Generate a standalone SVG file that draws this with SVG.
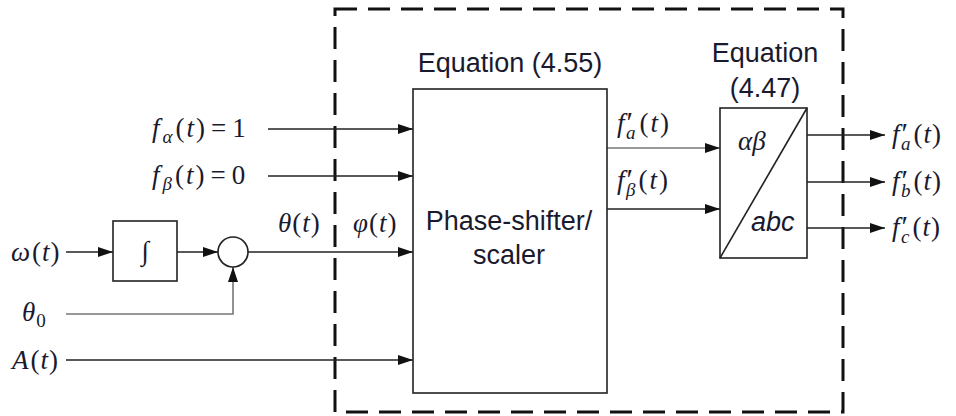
<svg xmlns="http://www.w3.org/2000/svg" width="956" height="416" viewBox="0 0 956 416">
<style>
.s{font-family:"Liberation Sans",Arial,sans-serif;font-size:27px;fill:#1a1a2e}
.m{font-family:"Liberation Serif","Times New Roman",serif;font-size:27px;fill:#1a1a2e}
.i{font-style:italic}
.sub{font-size:19px}
.pr{font-size:30px}
.box{fill:#fff;stroke:#222;stroke-width:1.6}
.ln{fill:none;stroke:#222;stroke-width:1.6}
.gr{stroke:#777}
</style>
<defs>
<marker id="ah" markerUnits="userSpaceOnUse" markerWidth="15" markerHeight="10" refX="15" refY="5" orient="auto">
<path d="M0,0 L15,5 L0,10 z" fill="#111"/>
</marker>
</defs>
<rect id="boundary" x="335" y="9" width="508" height="403" fill="none" stroke="#111" stroke-width="3" stroke-dasharray="22 11"/>
<g id="connectors">
<path class="ln" d="M268,129 H413" marker-end="url(#ah)"/>
<path class="ln" d="M268,176 H413" marker-end="url(#ah)"/>
<path class="ln" d="M66,252 H113" marker-end="url(#ah)"/>
<path class="ln" d="M177,252 H218" marker-end="url(#ah)"/>
<path class="ln" d="M248,252 H413" marker-end="url(#ah)"/>
<path class="ln gr" d="M66,314 H233 V267" marker-end="url(#ah)"/>
<path class="ln" d="M66,360 H413" marker-end="url(#ah)"/>
<path class="ln gr" d="M607,148 H720" marker-end="url(#ah)"/>
<path class="ln" d="M607,209 H720" marker-end="url(#ah)"/>
<path class="ln" d="M807,135 H885" marker-end="url(#ah)"/>
<path class="ln" d="M807,182 H885" marker-end="url(#ah)"/>
<path class="ln" d="M807,228 H885" marker-end="url(#ah)"/>
</g>
<g id="integrator">
<rect class="box" x="113" y="221" width="64" height="60"/>
<text class="m" x="145" y="260" text-anchor="middle" font-size="30">∫</text>
</g>
<g id="summer">
<circle class="box" cx="233" cy="252" r="15"/>
</g>
<g id="phase-shifter">
<rect class="box" x="413" y="89" width="194" height="304"/>
<text class="s" x="510" y="72" text-anchor="middle">Equation (4.55)</text>
<text class="s" x="509" y="230" text-anchor="middle">Phase-shifter/</text>
<text class="s" x="509" y="264" text-anchor="middle">scaler</text>
</g>
<g id="transform">
<rect class="box" x="720" y="108" width="87" height="150"/>
<path class="ln" d="M720,258 L807,108"/>
<text class="s" x="765" y="62" text-anchor="middle">Equation</text>
<text class="s" x="765" y="97" text-anchor="middle">(4.47)</text>
<text class="m i" x="738" y="150" font-size="30">αβ</text>
<text class="s i" x="751" y="231">abc</text>
</g>
<g id="labels">
<text class="m" x="152" y="137"><tspan class="i">f</tspan><tspan class="i sub" dx="3" dy="6">α</tspan><tspan dx="3" dy="-6">(</tspan><tspan class="i" dx="2">t</tspan><tspan dx="2">)</tspan><tspan dx="6">=</tspan><tspan dx="6">1</tspan></text>
<text class="m" x="152" y="184"><tspan class="i">f</tspan><tspan class="i sub" dx="3" dy="6">β</tspan><tspan dx="3" dy="-6">(</tspan><tspan class="i" dx="2">t</tspan><tspan dx="2">)</tspan><tspan dx="6">=</tspan><tspan dx="6">0</tspan></text>
<text class="m" x="11" y="261"><tspan class="i">ω</tspan><tspan dx="2">(</tspan><tspan class="i" dx="1">t</tspan><tspan dx="1">)</tspan></text>
<text class="m" x="22" y="321"><tspan class="i">θ</tspan><tspan class="sub" dx="1" dy="6">0</tspan></text>
<text class="m" x="12" y="369"><tspan class="i">A</tspan><tspan dx="2">(</tspan><tspan class="i" dx="1">t</tspan><tspan dx="1">)</tspan></text>
<text class="m" x="278" y="232"><tspan class="i">θ</tspan><tspan dx="1">(</tspan><tspan class="i" dx="1">t</tspan><tspan dx="1">)</tspan></text>
<text class="m" x="353" y="232"><tspan class="i">φ</tspan><tspan dx="1">(</tspan><tspan class="i" dx="1">t</tspan><tspan dx="1">)</tspan></text>
<text class="m" x="617" y="132"><tspan class="i">f</tspan><tspan class="pr" dx="2">′</tspan><tspan class="i sub" dx="-7" dy="7">a</tspan><tspan dx="4" dy="-7">(</tspan><tspan class="i" dx="2">t</tspan><tspan dx="2">)</tspan></text>
<text class="m" x="617" y="189"><tspan class="i">f</tspan><tspan class="pr" dx="2">′</tspan><tspan class="i sub" dx="-7" dy="7">β</tspan><tspan dx="3" dy="-7">(</tspan><tspan class="i" dx="2">t</tspan><tspan dx="2">)</tspan></text>
<text class="m" x="892" y="143"><tspan class="i">f</tspan><tspan class="pr" dx="2">′</tspan><tspan class="i sub" dx="-7" dy="7">a</tspan><tspan dx="3" dy="-7">(</tspan><tspan class="i" dx="1">t</tspan><tspan dx="1">)</tspan></text>
<text class="m" x="892" y="190"><tspan class="i">f</tspan><tspan class="pr" dx="2">′</tspan><tspan class="i sub" dx="-7" dy="7">b</tspan><tspan dx="3" dy="-7">(</tspan><tspan class="i" dx="1">t</tspan><tspan dx="1">)</tspan></text>
<text class="m" x="892" y="236"><tspan class="i">f</tspan><tspan class="pr" dx="2">′</tspan><tspan class="i sub" dx="-7" dy="7">c</tspan><tspan dx="3" dy="-7">(</tspan><tspan class="i" dx="1">t</tspan><tspan dx="1">)</tspan></text>
</g>
</svg>
